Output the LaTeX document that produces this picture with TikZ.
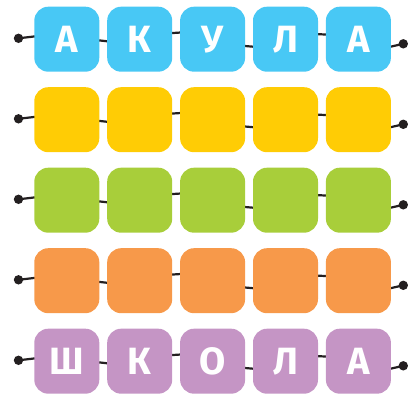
\documentclass[tikz,border=0pt]{standalone}
\usepackage{fontspec}
\setmainfont{Fira Sans}
\usetikzlibrary{backgrounds}
\definecolor{cblue}{RGB}{72,200,245}
\definecolor{cyellow}{RGB}{255,204,5}
\definecolor{cgreen}{RGB}{168,206,58}
\definecolor{corange}{RGB}{247,153,74}
\definecolor{cpurple}{RGB}{197,149,197}
\definecolor{ink}{RGB}{35,31,32}
\tikzset{
  tile/.style={rounded corners=14pt, minimum width=65pt, minimum height=65pt, inner sep=0pt,
    text=white, font=\fontsize{38}{38}\selectfont\bfseries},
  knot/.style={circle, fill=ink, inner sep=0pt, minimum size=9.4pt},
  thread/.style={draw=ink, line width=2.2pt},
}
\newcommand\tilerow[8]{%
  \node[tile,fill=#3] (b#1a) at (66.8,#2) {#4};
  \node[tile,fill=#3] (b#1b) at (139.7,#2) {#5};
  \node[tile,fill=#3] (b#1c) at (212.6,#2) {#6};
  \node[tile,fill=#3] (b#1d) at (285.5,#2) {#7};
  \node[tile,fill=#3] (b#1e) at (358.4,#2) {#8};
  \node[knot] (l#1) at (18.5,{#2-0.9}) {};
  \node[knot] (r#1) at (403.3,{#2+4.6}) {};
  \begin{scope}[on background layer]
    \draw[thread] (l#1.center) -- ([xshift=4pt,yshift=3.2pt]b#1a.west);
    \draw[thread] ([xshift=-4pt,yshift=-0.8pt]b#1a.east) -- ([xshift=4pt,yshift=-2.5pt]b#1b.west);
    \draw[thread] ([xshift=-4pt,yshift=5.9pt]b#1b.east) -- ([xshift=4pt,yshift=6.9pt]b#1c.west);
    \draw[thread] ([xshift=-4pt,yshift=-6.5pt]b#1c.east) -- ([xshift=4pt,yshift=-7.8pt]b#1d.west);
    \draw[thread] ([xshift=-4pt,yshift=5.2pt]b#1d.east) -- ([xshift=4pt,yshift=4.5pt]b#1e.west);
    \draw[thread] ([xshift=-4pt,yshift=-8.3pt]b#1e.east) -- (r#1.center);
  \end{scope}
}
\begin{document}
\begin{tikzpicture}[x=1pt,y=-1pt]
\useasboundingbox (0,0) rectangle (408,394);
\tilerow{1}{39.2}{cblue}{А}{К}{У}{Л}{А}
\tilerow{2}{119.7}{cyellow}{}{}{}{}{}
\tilerow{3}{200.2}{cgreen}{}{}{}{}{}
\tilerow{4}{280.7}{corange}{}{}{}{}{}
\tilerow{5}{361.2}{cpurple}{Ш}{К}{О}{Л}{А}
\end{tikzpicture}
\end{document}
